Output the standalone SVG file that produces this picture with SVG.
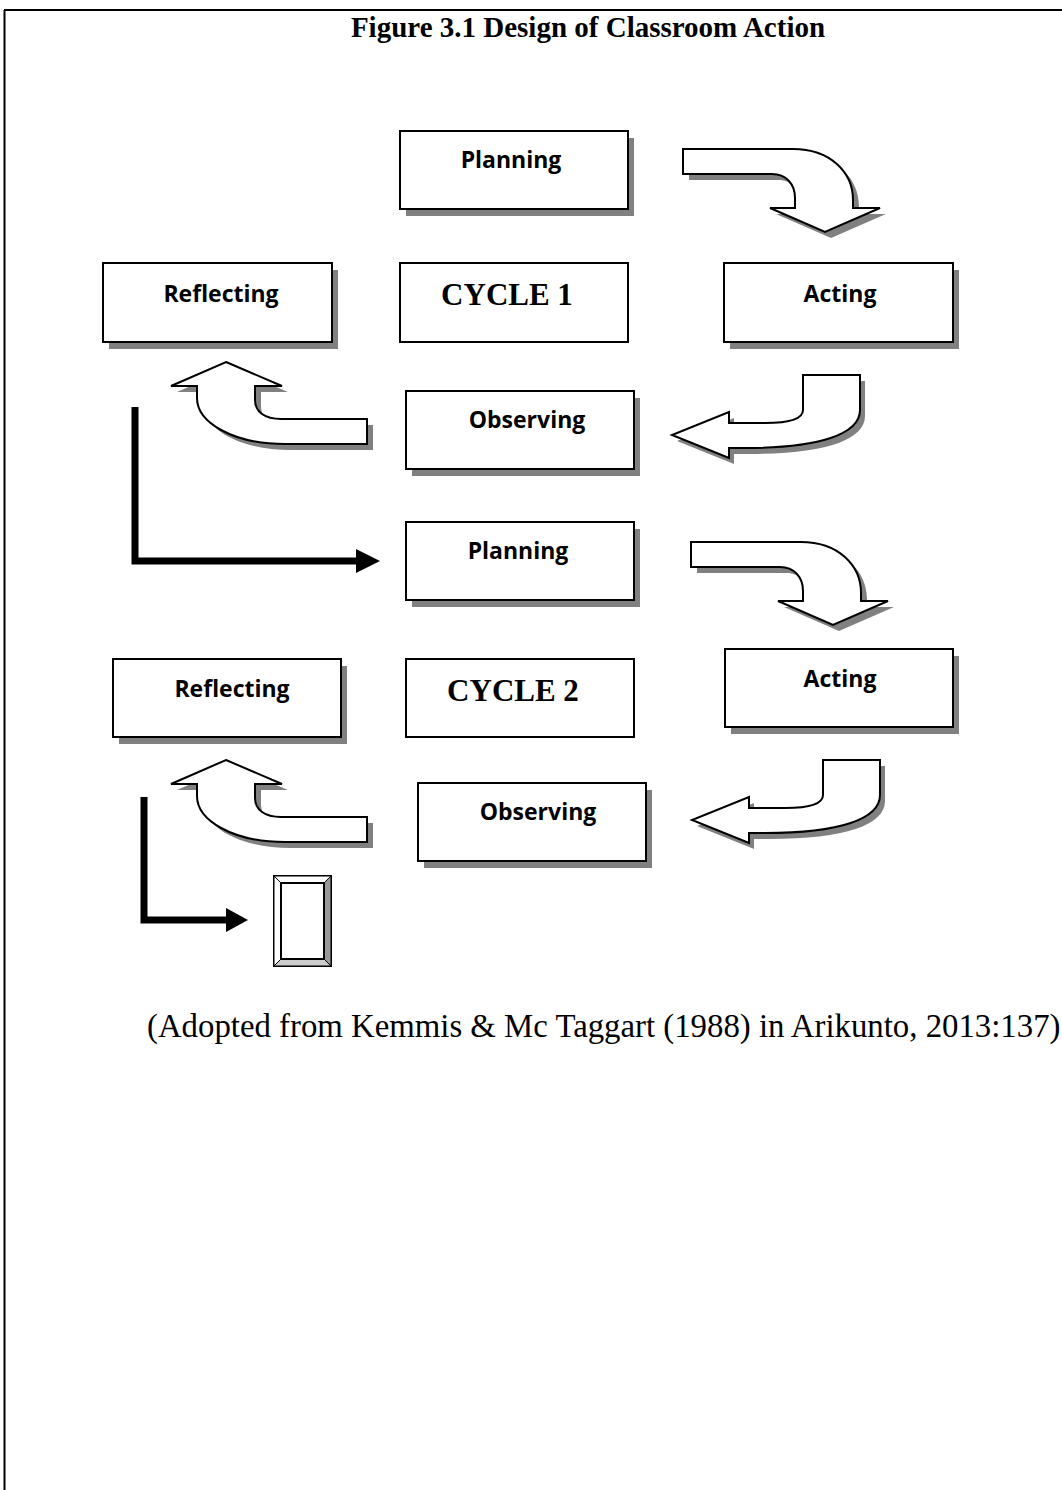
<svg xmlns="http://www.w3.org/2000/svg" xmlns:xlink="http://www.w3.org/1999/xlink" width="1062" height="1490" viewBox="0 0 1062 1490">
<style>
.box{fill:#fff;stroke:#000;stroke-width:2}
.shadow{fill:#808080;stroke:none}
.lbl{font-family:"Open Sans","Noto Sans",sans-serif;font-weight:bold;font-size:23px;fill:#000;text-anchor:middle}
.cyc{font-family:"Liberation Serif","Times New Roman",serif;font-weight:bold;font-size:31px;fill:#000;text-anchor:middle}
.title{font-family:"Liberation Serif","Times New Roman",serif;font-weight:bold;font-size:29px;fill:#000;text-anchor:middle}
.cap{font-family:"Liberation Serif","Times New Roman",serif;font-size:32.8px;fill:#000}
.arr{fill:#fff;stroke:#000;stroke-width:2;stroke-linejoin:miter}
.blk{fill:none;stroke:#000;stroke-width:7}
</style>
<defs>
<path id="arrDown" d="M683,149 L793,149 C830,149 853,172 853,200 L853,208 L880,208 L825,232 L770,208 L795,208 L795,198 C795,184 786,174 772,174 L683,174 Z"/>
<path id="arrUp" d="M226,362 L282,386 L255,386 L255,400 C255,412 265,419 281,419 L367,419 L367,444 L285,444 C232,444 197,422 197,398 L197,386 L171,386 Z"/>
<path id="arrLeft" d="M803,375 L860,375 L860,410 C860,434 820,448 745,448 L729,448 L729,458 L672,435 L729,412 L729,423 L765,423 C790,423 803,419 803,410 Z"/>
</defs>
<rect width="1062" height="1490" fill="#fff"/>
<g id="frame">
<line x1="4" y1="10" x2="1062" y2="10" stroke="#000" stroke-width="2"/>
<line x1="4.5" y1="10" x2="4.5" y2="1490" stroke="#000" stroke-width="2"/>
</g>
<text class="title" x="588" y="37">Figure 3.1 Design of Classroom Action</text>

<g id="connectors">
<g id="arrow-plan1-act1">
<use xlink:href="#arrDown" class="shadow" transform="translate(6,6)"/>
<use xlink:href="#arrDown" class="arr"/>
</g>
<g id="arrow-act1-obs1">
<use xlink:href="#arrLeft" class="shadow" transform="translate(5,6)"/>
<use xlink:href="#arrLeft" class="arr"/>
</g>
<g id="arrow-obs1-ref1">
<use xlink:href="#arrUp" class="shadow" transform="translate(6,6)"/>
<use xlink:href="#arrUp" class="arr"/>
</g>
<g id="arrow-ref1-plan2">
<polyline class="blk" points="135,407 135,561 358,561"/>
<polygon points="356,549 380,561 356,573" fill="#000"/>
</g>
<g id="arrow-plan2-act2">
<use xlink:href="#arrDown" class="shadow" transform="translate(14,399)"/>
<use xlink:href="#arrDown" class="arr" transform="translate(8,393)"/>
</g>
<g id="arrow-act2-obs2">
<use xlink:href="#arrLeft" class="shadow" transform="translate(25,391)"/>
<use xlink:href="#arrLeft" class="arr" transform="translate(20,385)"/>
</g>
<g id="arrow-obs2-ref2">
<use xlink:href="#arrUp" class="shadow" transform="translate(6,404)"/>
<use xlink:href="#arrUp" class="arr" transform="translate(0,398)"/>
</g>
<g id="arrow-ref2-next">
<polyline class="blk" points="144,797 144,920 228,920"/>
<polygon points="226,908 248,920 226,932" fill="#000"/>
</g>
</g>

<g id="planning1">
<rect class="shadow" x="406" y="138" width="228" height="78"/>
<rect class="box" x="400" y="131" width="228" height="78"/>
<text class="lbl" x="511" y="168">Planning</text>
</g>
<g id="cycle1">
<rect class="box" x="400" y="263" width="228" height="79"/>
<text class="cyc" x="507" y="305">CYCLE 1</text>
</g>
<g id="reflecting1">
<rect class="shadow" x="109" y="270" width="229" height="79"/>
<rect class="box" x="103" y="263" width="229" height="79"/>
<text class="lbl" x="221" y="302">Reflecting</text>
</g>
<g id="acting1">
<rect class="shadow" x="730" y="270" width="229" height="79"/>
<rect class="box" x="724" y="263" width="229" height="79"/>
<text class="lbl" x="840" y="302">Acting</text>
</g>
<g id="observing1">
<rect class="shadow" x="412" y="398" width="228" height="78"/>
<rect class="box" x="406" y="391" width="228" height="78"/>
<text class="lbl" x="527" y="428">Observing</text>
</g>
<g id="planning2">
<rect class="shadow" x="412" y="529" width="228" height="78"/>
<rect class="box" x="406" y="522" width="228" height="78"/>
<text class="lbl" x="518" y="559">Planning</text>
</g>
<g id="reflecting2">
<rect class="shadow" x="119" y="666" width="228" height="78"/>
<rect class="box" x="113" y="659" width="228" height="78"/>
<text class="lbl" x="232" y="697">Reflecting</text>
</g>
<g id="cycle2">
<rect class="box" x="406" y="659" width="228" height="78"/>
<text class="cyc" x="513" y="701">CYCLE 2</text>
</g>
<g id="acting2">
<rect class="shadow" x="731" y="656" width="228" height="78"/>
<rect class="box" x="725" y="649" width="228" height="78"/>
<text class="lbl" x="840" y="687">Acting</text>
</g>
<g id="observing2">
<rect class="shadow" x="424" y="790" width="228" height="78"/>
<rect class="box" x="418" y="783" width="228" height="78"/>
<text class="lbl" x="538" y="820">Observing</text>
</g>
<g id="next-cycle">
<rect x="274" y="876" width="57" height="90" fill="#fff" stroke="#000" stroke-width="2"/>
<polygon points="274,876 331,876 324,883 281,883" fill="#fff" stroke="#000" stroke-width="1"/>
<polygon points="274,876 281,883 281,959 274,966" fill="#fff" stroke="#000" stroke-width="1"/>
<polygon points="331,876 331,966 324,959 324,883" fill="#999" stroke="#000" stroke-width="1"/>
<polygon points="274,966 281,959 324,959 331,966" fill="#ccc" stroke="#000" stroke-width="1"/>
<rect x="281" y="883" width="43" height="76" fill="#fff" stroke="#000" stroke-width="2"/>
</g>

<text class="cap" x="147" y="1037">(Adopted from Kemmis &amp; Mc Taggart (1988) in Arikunto, 2013:137)</text>
</svg>
